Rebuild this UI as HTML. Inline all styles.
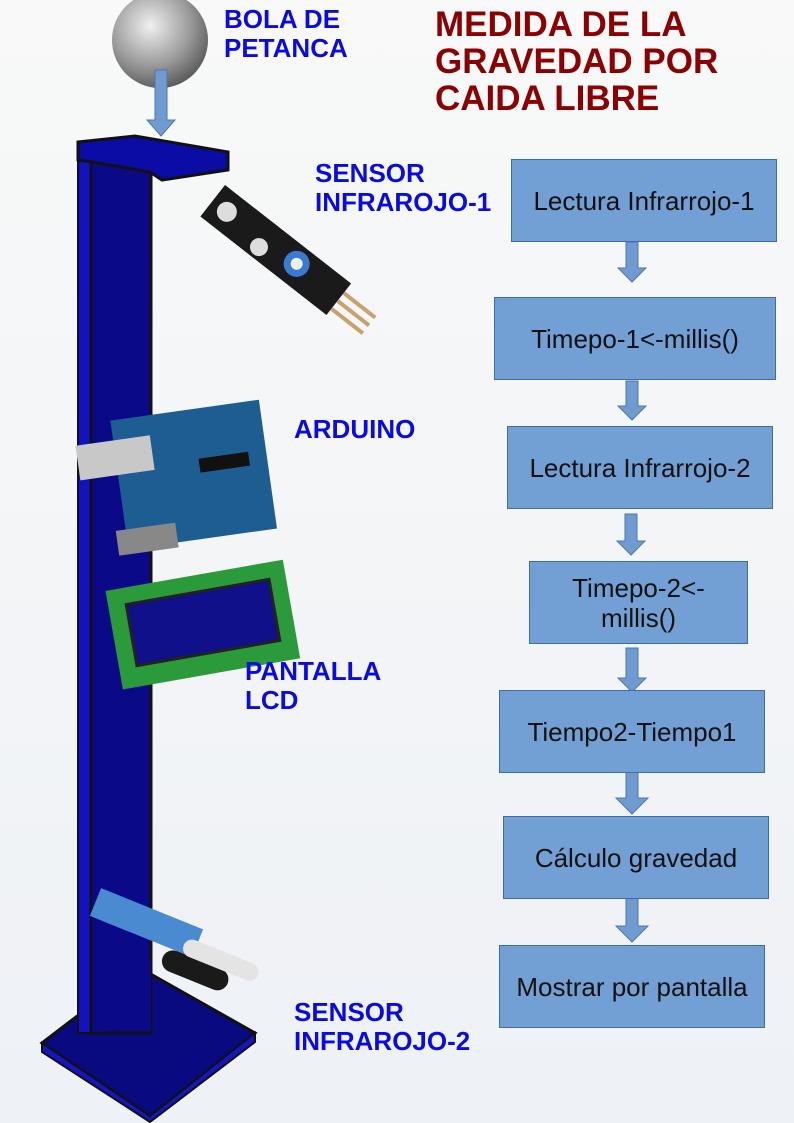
<!DOCTYPE html>
<html><head><meta charset="utf-8"><style>
body{margin:0;width:794px;height:1123px;overflow:hidden;font-family:"Liberation Sans",sans-serif;background:linear-gradient(#f8f9f8,#eef1f6);}
.t{position:absolute;color:#0a0ae6;font-weight:bold;font-size:26px;line-height:29px;}
.h{position:absolute;color:#8b0000;font-weight:bold;font-size:35px;line-height:37px;left:435px;top:6px;}
.b{position:absolute;background:#72a0d4;border:1px solid #3b6ea8;box-sizing:border-box;display:flex;align-items:center;justify-content:center;text-align:center;font-size:26px;line-height:30px;color:#111;}
</style></head><body>
<svg width="794" height="1123" style="position:absolute;left:0;top:0">
<defs><radialGradient id="g" cx="0.4" cy="0.35" r="0.7"><stop offset="0" stop-color="#f0f0f0"/><stop offset="0.6" stop-color="#9a9a9a"/><stop offset="1" stop-color="#555"/></radialGradient></defs>
<circle cx="160" cy="40" r="48" fill="url(#g)"/>
<polygon points="155,70 167,70 167,120 175,120 161,136 147,120 155,120" fill="#6f9bd0" stroke="#4a78b0"/>
<polygon points="42,1043 140,968 255,1033 150,1116" fill="#0a0a80" stroke="#111" stroke-width="3"/>
<polygon points="42,1043 42,1052 150,1122 255,1042 255,1033 150,1116" fill="#1515c8" stroke="#111" stroke-width="2"/>
<rect x="78" y="145" width="14" height="888" fill="#1212c0" stroke="#111" stroke-width="2"/>
<rect x="91" y="160" width="60" height="873" fill="#0a0a88" stroke="#111" stroke-width="3"/>
<polygon points="140,968 151,960 151,1030 93,1032" fill="#0a0a88"/>
<polygon points="78,142 135,136 228,152 228,170 162,180 150,172 92,162 78,160" fill="#0b0ba6" stroke="#111" stroke-width="3"/>
<g transform="translate(225,185) rotate(38)"><rect x="0" y="0" width="160" height="40" fill="#1a1a1a"/><circle cx="18" cy="20" r="10" fill="#ddd"/><circle cx="65" cy="28" r="9" fill="#ddd"/><circle cx="105" cy="18" r="13" fill="#3a7ad0"/><circle cx="105" cy="18" r="6" fill="#eee"/><rect x="160" y="10" width="40" height="4" fill="#c9a070"/><rect x="160" y="20" width="40" height="4" fill="#c9a070"/><rect x="160" y="30" width="40" height="4" fill="#c9a070"/></g>
<g transform="rotate(-8 190 470)"><rect x="118" y="410" width="150" height="130" fill="#1e5d92"/><rect x="80" y="430" width="75" height="35" fill="#c8c8c8"/><rect x="200" y="460" width="50" height="14" fill="#111"/><rect x="108" y="520" width="60" height="25" fill="#888"/></g>
<g transform="rotate(-10 200 620)"><rect x="112" y="575" width="180" height="100" fill="#2a9a3a"/><rect x="130" y="592" width="145" height="62" fill="#10108a" stroke="#222" stroke-width="3"/></g>
<g transform="rotate(22 140 920)"><rect x="92" y="905" width="110" height="30" fill="#4a8ad0"/><rect x="175" y="935" width="70" height="22" rx="11" fill="#1a1a1a"/><rect x="190" y="918" width="80" height="18" rx="9" fill="#e4e4e4"/></g>
<g fill="#6f9bd0" stroke="#4a78b0">
<polygon points="626,242 638,242 638,268 646,268 632,282 618,268 626,268"/>
<polygon points="626,381 638,381 638,406 646,406 632,420 618,406 626,406"/>
<polygon points="625,514 637,514 637,541 645,541 631,555 617,541 625,541"/>
<polygon points="626,648 638,648 638,678 646,678 632,692 618,678 626,678"/>
<polygon points="626,769 638,769 638,798 648,798 632,814 616,798 626,798"/>
<polygon points="626,897 638,897 638,926 648,926 632,942 616,926 626,926"/>
</g>
</svg>
<div class="t" style="left:224px;top:5px">BOLA DE<br>PETANCA</div>
<div class="t" style="left:315px;top:159px">SENSOR<br>INFRAROJO-1</div>
<div class="t" style="left:294px;top:415px">ARDUINO</div>
<div class="t" style="left:245px;top:657px">PANTALLA<br>LCD</div>
<div class="t" style="left:294px;top:998px">SENSOR<br>INFRAROJO-2</div>
<div class="h">MEDIDA DE LA<br>GRAVEDAD POR<br>CAIDA LIBRE</div>
<div class="b" style="left:511px;top:159px;width:266px;height:83px">Lectura Infrarrojo-1</div>
<div class="b" style="left:494px;top:297px;width:282px;height:83px">Timepo-1&lt;-millis()</div>
<div class="b" style="left:507px;top:426px;width:266px;height:83px">Lectura Infrarrojo-2</div>
<div class="b" style="left:529px;top:561px;width:219px;height:83px">Timepo-2&lt;-<br>millis()</div>
<div class="b" style="left:499px;top:690px;width:266px;height:83px">Tiempo2-Tiempo1</div>
<div class="b" style="left:503px;top:816px;width:266px;height:83px">Cálculo gravedad</div>
<div class="b" style="left:499px;top:945px;width:266px;height:83px">Mostrar por pantalla</div>
</body></html>
